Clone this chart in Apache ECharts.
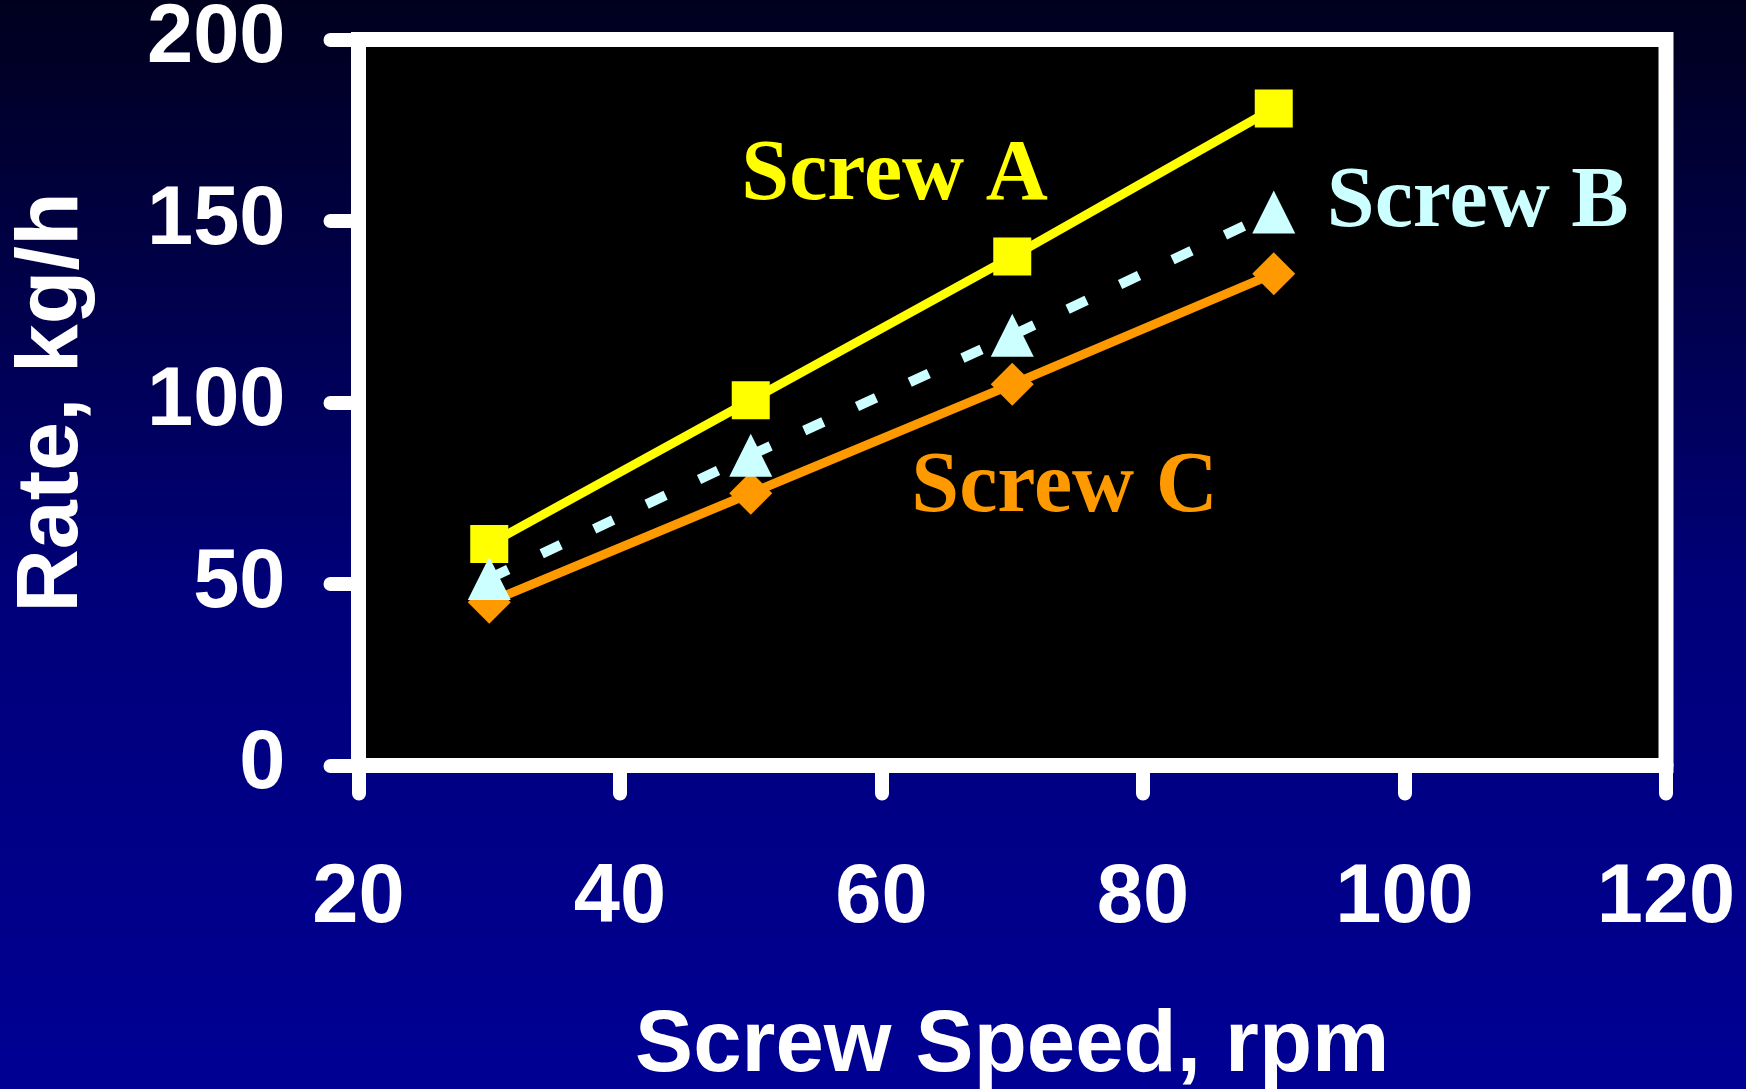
<!DOCTYPE html>
<html>
<head>
<meta charset="utf-8">
<title>Rate vs Screw Speed</title>
<script src="https://cdn.jsdelivr.net/npm/echarts@6/dist/echarts.min.js"></script>
<style>
  html, body { margin: 0; padding: 0; }
  #main { width: 1746px; height: 1089px; }
</style>
</head>
<body>
<div id="main"></div>
<script>
  // screw speed, rpm
  let speeds = [30, 50, 70, 90];
  // rate, kg/h
  let screwA = [61, 100.6, 140.2, 181];
  let screwB = [51.5, 85.5, 118.5, 152.5];
  let screwC = [45, 75, 105, 135.5];
  let names = ['Screw A', 'Screw B', 'Screw C'];
  // where the text labels sit, in data units
  let labelAt = [[61, 162.2], [105.6, 154.7], [74, 76.3]];
  let xTicks = [20, 40, 60, 80, 100, 120];
  let yTicks = [0, 50, 100, 150, 200];

  let styles = {
    'Screw A': {color: '#ffff00', symbol: 'rect', size: 38, line: 'solid', width: 9},
    'Screw B': {color: '#ccffff', symbol: 'triangle', size: 43, line: [21, 37], width: 10},
    'Screw C': {color: '#ff9900', symbol: 'diamond', size: 43, line: 'solid', width: 9}
  };

  let myChart = echarts.init(document.getElementById('main'));
  let values = [screwA, screwB, screwC];
  let series = [];
  // B goes last so the triangles sit on top
  let order = [0, 2, 1];
  for (let k = 0; k < order.length; k++) {
    let i = order[k];
    let st = styles[names[i]];
    series.push({
      name: names[i],
      type: 'line',
      data: speeds.map((x, j) => [x, values[i][j]]),
      symbol: st.symbol,
      symbolSize: st.size,
      showAllSymbol: true,
      itemStyle: {color: st.color, opacity: 1},
      lineStyle: {color: st.color, width: st.width, type: st.line, cap: 'butt'},
      emphasis: {disabled: true},
      markPoint: {
        silent: true,
        symbol: 'circle',
        symbolSize: 0,
        animation: false,
        label: {
          show: true,
          position: 'inside',
          formatter: names[i],
          color: st.color,
          fontFamily: '"Liberation Serif", "Times New Roman", serif',
          fontWeight: 'bold',
          fontSize: 86
        },
        data: [{name: names[i], coord: labelAt[i]}]
      }
    });
  }

  let axisFont = {
    color: '#ffffff',
    fontFamily: '"Liberation Sans", Arial, sans-serif',
    fontWeight: 'bold'
  };

  let option = {
    animation: false,
    backgroundColor: {
      type: 'linear', x: 0, y: 0, x2: 0, y2: 1,
      colorStops: [
        {offset: 0, color: '#00001e'},
        {offset: 0.55, color: '#00007a'},
        {offset: 1, color: '#000094'}
      ]
    },
    grid: {
      show: true,
      left: 358.5,
      right: 80,
      top: 39.5,
      bottom: 323.5,
      backgroundColor: '#000000',
      borderColor: '#ffffff',
      borderWidth: 15,
      outerBoundsMode: 'none'
    },
    xAxis: {
      type: 'value',
      min: xTicks[0],
      max: xTicks[xTicks.length - 1],
      interval: 20,
      name: 'Screw Speed, rpm',
      nameLocation: 'middle',
      nameGap: 238,
      nameTextStyle: Object.assign({fontSize: 87}, axisFont),
      axisLine: {show: true, lineStyle: {color: '#ffffff', width: 15}},
      axisTick: {show: true, length: 28, lineStyle: {color: '#ffffff', width: 14, cap: 'round'}},
      axisLabel: Object.assign({fontSize: 83, margin: 92, hideOverlap: false}, axisFont),
      splitLine: {show: false}
    },
    yAxis: {
      type: 'value',
      min: yTicks[0],
      max: yTicks[yTicks.length - 1],
      interval: 50,
      name: 'Rate, kg/h',
      nameLocation: 'middle',
      nameGap: 262,
      nameTextStyle: Object.assign({fontSize: 88}, axisFont),
      axisLine: {show: true, lineStyle: {color: '#ffffff', width: 15}},
      axisTick: {show: true, length: 28, lineStyle: {color: '#ffffff', width: 14, cap: 'round'}},
      axisLabel: Object.assign({fontSize: 83, margin: 73, hideOverlap: false}, axisFont),
      splitLine: {show: false}
    },
    series: series
  };

  myChart.setOption(option);
</script>
</body>
</html>
